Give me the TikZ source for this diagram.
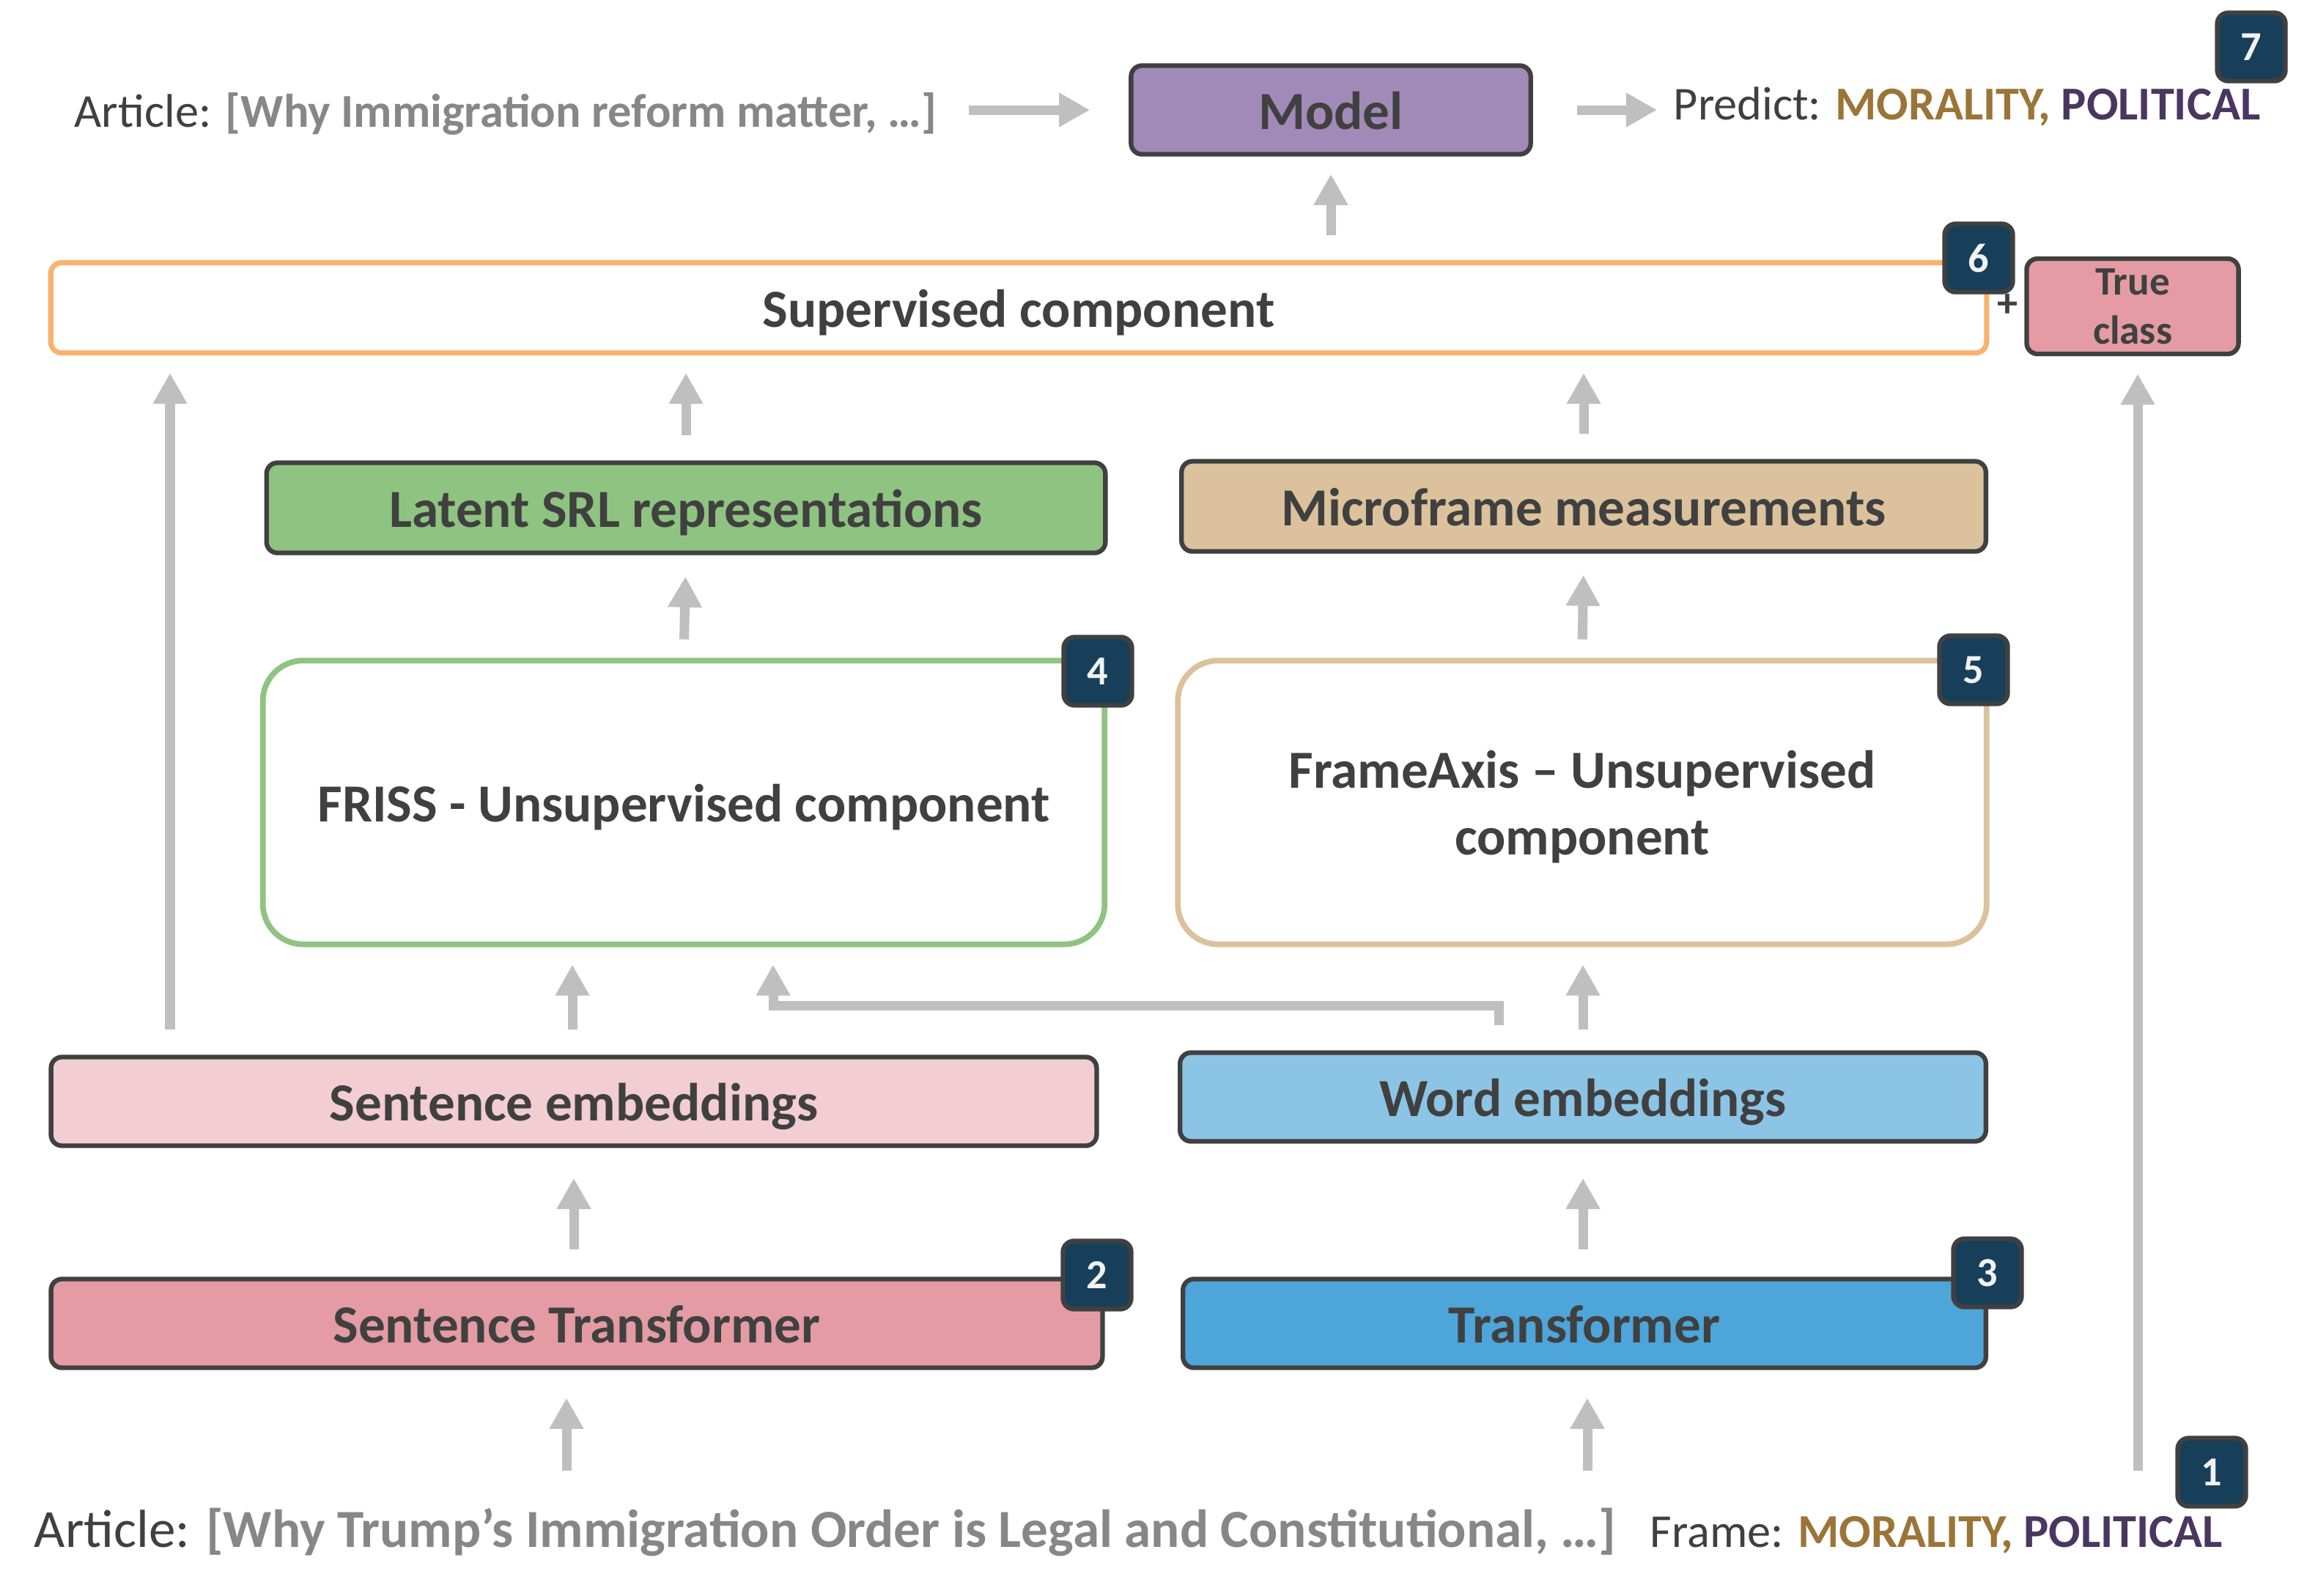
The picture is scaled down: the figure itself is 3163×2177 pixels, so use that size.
\documentclass[tikz,border=0pt]{standalone}
\usepackage{fontspec}
\setmainfont{Carlito}
\usetikzlibrary{arrows.meta}

\definecolor{edge}{HTML}{404040}
\definecolor{ink}{HTML}{404040}
\definecolor{arrowgray}{HTML}{BFBFBF}
\definecolor{txtgray}{HTML}{878787}
\definecolor{badgeblue}{HTML}{173F5A}
\definecolor{modelpurple}{HTML}{A18AB8}
\definecolor{suporange}{HTML}{F9B26B}
\definecolor{pinkdark}{HTML}{E49BA3}
\definecolor{pinklight}{HTML}{F2CDD2}
\definecolor{srlgreen}{HTML}{8FC381}
\definecolor{microtan}{HTML}{DBC29C}
\definecolor{bluelight}{HTML}{8CC4E6}
\definecolor{bluedark}{HTML}{4DA5D9}
\definecolor{moral}{HTML}{9B7538}
\definecolor{polit}{HTML}{4A3660}

\tikzset{
  onerow/.style={text height=18.5pt, text depth=3.5pt},
  stagebase/.style={draw=edge, line width=1.8pt, rounded corners=0.15cm, inner sep=0pt,
    text=ink, font=\bfseries\fontsize{20.8}{25}\selectfont},
  stage/.style={stagebase, onerow},
  compbox/.style={line width=2.2pt, fill=white, inner sep=0pt, align=center,
    text=ink, font=\bfseries\fontsize{20.8}{26}\selectfont},
  badge/.style={draw=edge, fill=badgeblue, line width=1.8pt, rounded corners=0.15cm,
    minimum width=0.93cm, minimum height=0.93cm, inner sep=0pt, text=white!95!black,
    font=\bfseries\fontsize{16}{19}\selectfont},
  flow/.style={draw=arrowgray, line width=3.7pt, line join=miter,
    -{Triangle[length=0.42cm,width=0.44cm]}, shorten <=0.34cm, shorten >=0.24cm},
  plain/.style={anchor=base west, inner sep=0pt, text=ink}
}

\begin{document}
\begin{tikzpicture}[x=0.01cm, y=-0.01cm]
  \useasboundingbox (0,0) rectangle (3163,2177);

  % top row
  \node[plain, font=\fontsize{18.3}{22}\selectfont] (toparticle) at (101,173)
    {Article: \textcolor{txtgray}{\bfseries [Why Immigration reform matter, …]}};
  \node[stage, fill=modelpurple, minimum width=5.45cm, minimum height=1.21cm] (model) at (1816,150) {Model};
  \node[plain, font=\fontsize{18.3}{22}\selectfont] (predict) at (2283,163)
    {Predict: \textcolor{moral}{\bfseries MORALITY,} \textcolor{polit}{\bfseries POLITICAL}};

  % supervised part
  \node[compbox, onerow, draw=suporange, line width=2pt, rounded corners=0.15cm,
    minimum width=26.4cm, minimum height=1.23cm] (sup) at (1390,420) {Supervised component};
  \node[stagebase, fill=pinkdark, minimum width=2.89cm, minimum height=1.30cm, align=center,
    font=\bfseries\fontsize{15.7}{19}\selectfont] (truecls) at (2910,418) {True\\class};
  \node[text=ink, inner sep=0pt, font=\bfseries\fontsize{16}{19}\selectfont] (plus) at (2739,417) {+};

  \node[stage, fill=srlgreen, minimum width=11.44cm, minimum height=1.23cm] (latent) at (936,693) {Latent SRL representations};
  \node[stage, fill=microtan, minimum width=10.97cm, minimum height=1.23cm] (micro) at (2161,691) {Microframe measurements};

  % unsupervised part
  \node[compbox, onerow, draw=srlgreen, rounded corners=0.55cm,
    minimum width=11.48cm, minimum height=3.87cm] (friss) at (933,1095) {FRISS - Unsupervised component};
  \node[compbox, draw=microtan, rounded corners=0.55cm,
    minimum width=11.03cm, minimum height=3.87cm] (fraxis) at (2159,1095) {\rule{0pt}{18pt}FrameAxis – Unsupervised\\component};

  % embeddings and encoders
  \node[stage, fill=pinklight, minimum width=14.26cm, minimum height=1.21cm] (sentemb) at (783,1503) {Sentence embeddings};
  \node[stage, fill=bluelight, minimum width=10.99cm, minimum height=1.21cm] (wordemb) at (2160,1497) {Word embeddings};
  \node[stage, fill=pinkdark, minimum width=14.34cm, minimum height=1.21cm] (senttr) at (787,1806) {Sentence Transformer};
  \node[stage, fill=bluedark, minimum width=10.95cm, minimum height=1.21cm] (transf) at (2162,1806) {Transformer};

  % bottom row
  \node[plain, font=\fontsize{20.8}{25}\selectfont] (botarticle) at (46,2111)
    {Article: \textcolor{txtgray}{\bfseries [Why Trump’s Immigration Order is Legal and Constitutional, …]}};
  \node[plain, font=\fontsize{18.3}{22}\selectfont] (frame) at (2251,2111)
    {Frame: \textcolor{moral}{\bfseries MORALITY,} \textcolor{polit}{\bfseries POLITICAL}};

  % badges
  \node[badge] (b1) at (3018,2009) {1};
  \node[badge] (b2) at (1497,1740) {2};
  \node[badge] (b3) at (2712,1737) {3};
  \node[badge] (b4) at (1498,916) {4};
  \node[badge] (b5) at (2693,914) {5};
  \node[badge] (b6) at (2700,352) {6};
  \node[badge] (b7) at (3072,64) {7};

  % free ends
  \coordinate (in1) at (773,2007);
  \coordinate (in2) at (2166,2007);
  \coordinate (in3) at (2917,2007);
  \coordinate (lft) at (232,1400);
  \coordinate (sx) at (781,1400);
  \coordinate (jr) at (2045,1372);
  \coordinate (jl) at (1055,1372);

  % arrows
  \draw[flow, shorten <=0.42cm, shorten >=0.53cm] (toparticle.east |- model.west) -- (model.west);
  \draw[flow, shorten <=0.6cm, shorten >=0.22cm] (model.east) -- (model.east -| predict.west);
  \draw[flow] (sup.north -| model.south) -- (model.south);
  \draw[flow] (latent.north) -- (sup.south -| latent.north);
  \draw[flow] (micro.north) -- (sup.south -| micro.north);
  \draw[flow] (sentemb.north -| lft) -- (sup.south -| lft);
  \draw[flow, shorten <=0pt] (in3) -- (truecls.south -| in3);
  \draw[flow, shorten <=0.25cm, shorten >=0.29cm] (friss.north) -- (latent.south);
  \draw[flow, shorten <=0.25cm, shorten >=0.29cm] (fraxis.north) -- (micro.south);
  \draw[flow] (sentemb.north -| sx) -- (friss.south -| sx);
  \draw[flow] (wordemb.north -| jr) -- (jr) -- (jl) -- (friss.south -| jl);
  \draw[flow, shorten <=0.28cm] (wordemb.north) -- (fraxis.south -| wordemb.north);
  \draw[flow, shorten <=0.37cm, shorten >=0.41cm] (senttr.north -| sentemb.south) -- (sentemb.south);
  \draw[flow, shorten <=0.37cm, shorten >=0.47cm] (transf.north -| wordemb.south) -- (wordemb.south);
  \draw[flow, shorten <=0pt, shorten >=0.38cm] (in1) -- (senttr.south -| in1);
  \draw[flow, shorten <=0pt, shorten >=0.38cm] (in2) -- (transf.south -| in2);
\end{tikzpicture}
\end{document}
